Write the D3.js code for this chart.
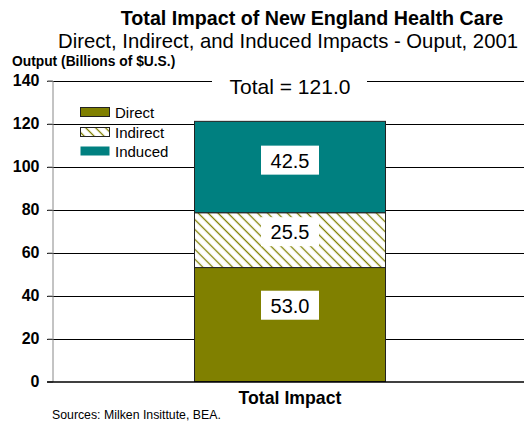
<!DOCTYPE html>
<html>
<head>
<meta charset="utf-8">
<script src="https://cdn.jsdelivr.net/npm/d3@7"></script>
<style>
  html, body { margin: 0; padding: 0; background: #fff; }
  svg { display: block; font-family: Arial, "Liberation Sans", sans-serif; }
</style>
</head>
<body>
<svg id="chart" width="524" height="423"></svg>
<script>
// Output impact of New England health care, 2001 (billions of US$)
const categories = ["Total Impact"];
const seriesNames = ["Direct", "Indirect", "Induced"];
const seriesValues = [53.0, 25.5, 42.5];
const totalValue = 121.0;
const yTicks = [0, 20, 40, 60, 80, 100, 120, 140];

const colors = { Direct: "#808000", Indirect: "#808000", Induced: "#008080" };
// where inside each segment its label sits (fraction of segment height, from bottom)
const labelPos = { Direct: 0.665, Indirect: 0.645, Induced: 0.57 };

const svg = d3.select("#chart");
const W = 524, H = 423;
const m = { left: 52, right: 0, top: 80.5, bottom: 41.5 };

const x = d3.scaleBand().domain(categories).range([m.left, W + 4]).paddingInner(0.427).paddingOuter(0.427);
const y = d3.scaleLinear().domain([0, 140]).range([H - m.bottom, m.top]);

// hatch pattern for the indirect series (thin lines running top-left to bottom-right)
const hatchStep = 7;
const defs = svg.append("defs");
const pat = defs.append("pattern")
  .attr("id", "hatch").attr("patternUnits", "userSpaceOnUse")
  .attr("width", hatchStep).attr("height", hatchStep)
  .attr("patternTransform", "rotate(-45)");
pat.append("rect").attr("width", hatchStep).attr("height", hatchStep).attr("fill", "#fff");
pat.append("line").attr("x1", hatchStep / 2).attr("y1", 0).attr("x2", hatchStep / 2).attr("y2", hatchStep)
  .attr("stroke", "#808000").attr("stroke-width", 1.3);

// titles
svg.append("text").attr("x", 312).attr("y", 25).attr("text-anchor", "middle")
  .attr("font-size", 19.7).attr("font-weight", "bold").text("Total Impact of New England Health Care");
svg.append("text").attr("x", 288).attr("y", 48).attr("text-anchor", "middle")
  .attr("font-size", 20.3).text("Direct, Indirect, and Induced Impacts - Ouput, 2001");
svg.append("text").attr("x", 12).attr("y", 66)
  .attr("font-size", 13.8).attr("font-weight", "bold").text("Output (Billions of $U.S.)");

// gridlines
svg.append("g").selectAll("line").data(yTicks.filter(d => d > 0)).join("line")
  .attr("x1", m.left - 5).attr("x2", W)
  .attr("y1", d => Math.round(y(d)) + 0.5).attr("y2", d => Math.round(y(d)) + 0.5)
  .attr("stroke", "#000").attr("stroke-width", 1);

// y axis
const yAxis = svg.append("g").attr("transform", `translate(${m.left + 0.5},0)`)
  .call(d3.axisLeft(y).tickValues(yTicks).tickSize(5).tickPadding(8).tickFormat(d3.format("d")));
yAxis.select(".domain").attr("stroke", "#888");
yAxis.selectAll(".tick line").attr("stroke", "#888");
yAxis.selectAll(".tick text").attr("font-size", 16).attr("font-weight", "bold")
  .attr("fill", "#000").attr("font-family", "Arial, 'Liberation Sans', sans-serif");

// stacked bar
const stackData = [Object.fromEntries(seriesNames.map((s, i) => [s, seriesValues[i]]))];
stackData[0].category = categories[0];
const stacked = d3.stack().keys(seriesNames)(stackData);

svg.append("g").selectAll("rect").data(stacked).join("rect")
  .attr("x", Math.round(x(categories[0])) + 0.5)
  .attr("width", Math.round(x.bandwidth()))
  .attr("y", d => y(d[0][1]))
  .attr("height", d => y(d[0][0]) - y(d[0][1]))
  .attr("fill", d => d.key === "Indirect" ? "url(#hatch)" : colors[d.key])
  .attr("stroke", "#222").attr("stroke-width", 1);

// x axis baseline
svg.append("line").attr("x1", m.left - 5).attr("x2", W)
  .attr("y1", y(0) + 0.5).attr("y2", y(0) + 0.5)
  .attr("stroke", "#000").attr("stroke-width", 1.5);

// segment value labels on white boxes
const cx = x(categories[0]) + x.bandwidth() / 2;
const labels = svg.append("g").selectAll("g").data(stacked).join("g")
  .attr("transform", d => {
    const v0 = d[0][0], v1 = d[0][1];
    return `translate(${cx},${y(v0 + (v1 - v0) * labelPos[d.key])})`;
  });
labels.append("rect").attr("x", -29).attr("y", -15).attr("width", 58).attr("height", 29).attr("fill", "#fff");
labels.append("text").attr("text-anchor", "middle").attr("dy", "0.35em")
  .attr("font-size", 20).text((d, i) => d3.format(".1f")(seriesValues[i]));

// total label
const tot = svg.append("g").attr("transform", `translate(${cx},${y(totalValue) - 35})`);
tot.append("rect").attr("x", -78).attr("y", -15).attr("width", 155).attr("height", 30).attr("fill", "#fff");
tot.append("text").attr("text-anchor", "middle").attr("dy", "0.35em")
  .attr("font-size", 21).text("Total = " + d3.format(".1f")(totalValue));

// category label
svg.append("text").attr("x", cx).attr("y", 404).attr("text-anchor", "middle")
  .attr("font-size", 17.7).attr("font-weight", "bold").text(categories[0]);

// legend
const legendY = [107, 127, 146];
const legend = svg.append("g").selectAll("g").data(seriesNames).join("g")
  .attr("transform", (d, i) => `translate(80,${legendY[i]})`);
legend.append("rect").attr("x", 0.5).attr("y", 0.5).attr("width", 29).attr("height", 9)
  .attr("fill", d => d === "Indirect" ? "url(#hatch)" : colors[d])
  .attr("stroke", d => d === "Induced" ? "none" : "#222").attr("stroke-width", 1);
legend.append("text").attr("x", 35).attr("y", 10.5).attr("font-size", 15).text(d => d);

// source note
svg.append("text").attr("x", 52).attr("y", 419).attr("font-size", 12.3).text("Sources: Milken Insittute, BEA.");
</script>
</body>
</html>
